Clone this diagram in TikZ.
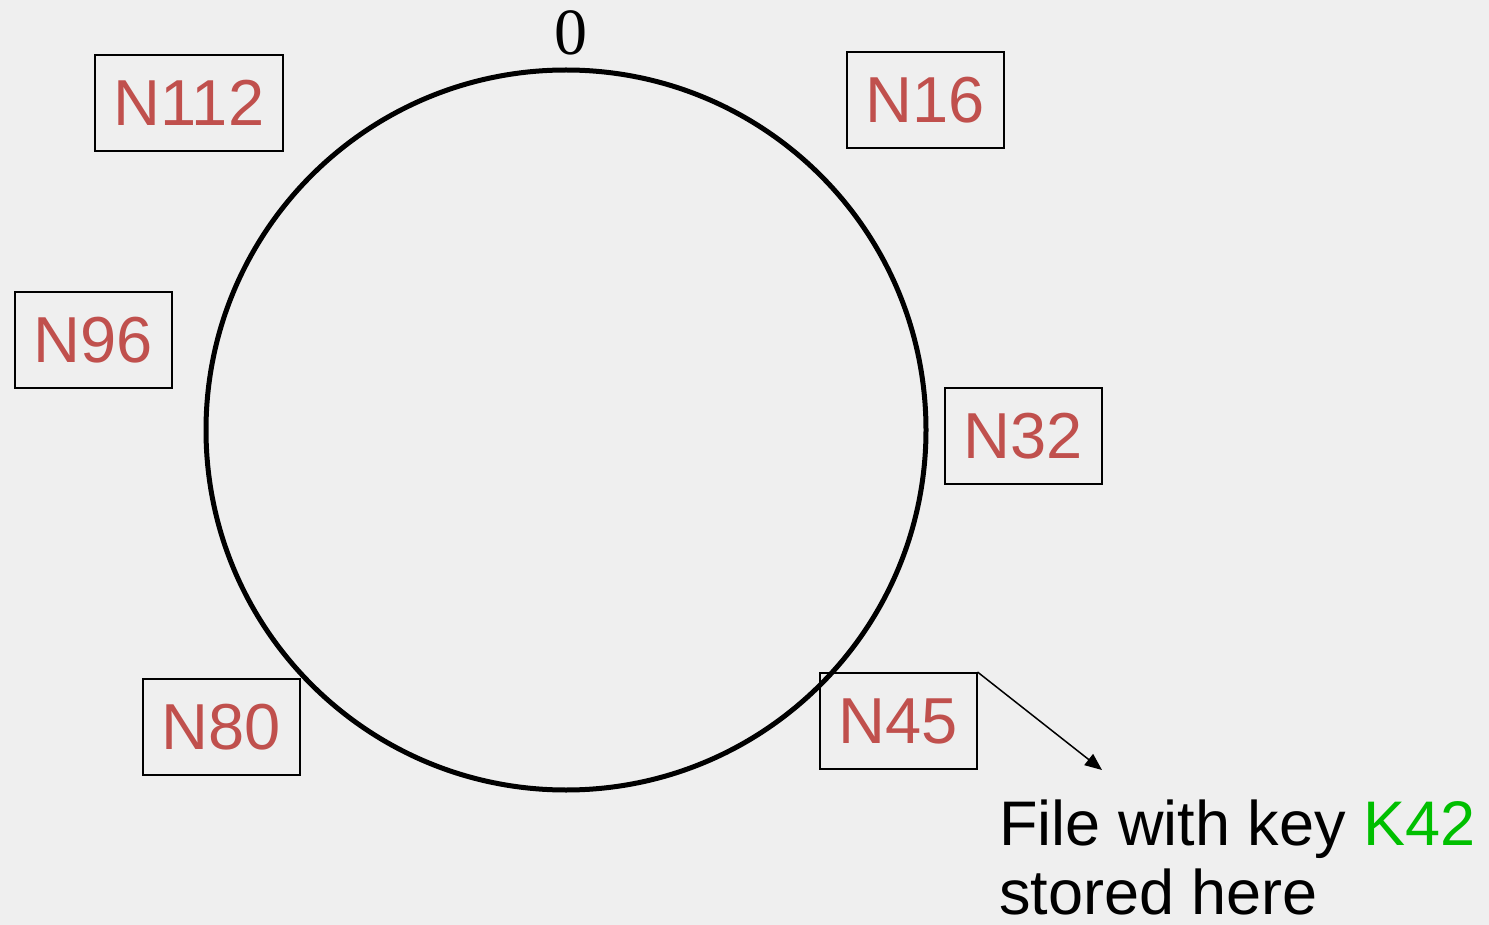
\documentclass[tikz,border=0pt]{standalone}
\usepackage{fontspec}
\setmainfont{Liberation Sans}
\newfontfamily\serifzero{Liberation Serif}
\usetikzlibrary{arrows.meta}
\definecolor{bgc}{HTML}{EFEFEF}
\definecolor{nodered}{HTML}{C0504D}
\definecolor{keygreen}{HTML}{00BF00}
\tikzset{
  nbox/.style={draw=black, line width=2pt, inner sep=0pt, minimum width=157pt, minimum height=96pt,
    text=nodered, font=\fontsize{65}{70}\selectfont},
  lbl/.style={inner sep=0pt, font=\fontsize{63}{70}\selectfont},
}
\begin{document}
\begin{tikzpicture}[x=1pt,y=-1pt]
\fill[bgc] (0,0) rectangle (1489,925);
\useasboundingbox (0,0) rectangle (1489,925);
\node[draw=black, line width=5pt, circle, minimum size=720pt, inner sep=0pt] (ring) at (566,430) {};
\node[inner sep=0pt, font=\serifzero\fontsize{66}{70}\selectfont] (zero) at (571,33) {0};
\node[nbox, minimum width=188pt] (n112) at (189,103) {N112};
\node[nbox] (n16) at (925,100) {N16};
\node[nbox] (n96) at (93,340) {N96};
\node[nbox] (n32) at (1023,436) {N32};
\node[nbox] (n80) at (221,727) {N80};
\node[nbox] (n45) at (898,721) {N45};
\coordinate (tip) at (1102,770);
\draw[line width=1.5pt, -{Triangle[length=17pt,width=14pt]}] (n45.north east) -- (tip);
\node[lbl, anchor=base west] (file) at (999,845) {File with key \textcolor{keygreen}{K42}};
\node[lbl, anchor=base west] (stored) at (999,914) {stored here};
\end{tikzpicture}
\end{document}
